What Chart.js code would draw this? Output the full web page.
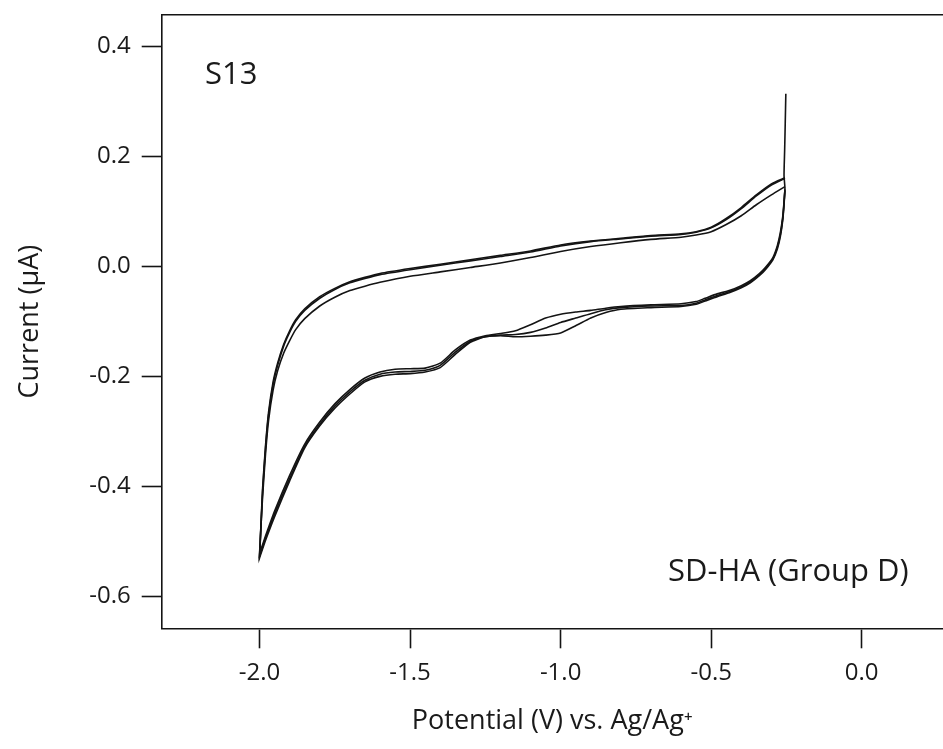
<!DOCTYPE html>
<html>
<head>
<meta charset="utf-8">
<script src="https://cdn.jsdelivr.net/npm/chart.js@4.4.1/dist/chart.umd.min.js"></script>
<style>
  html, body { margin: 0; padding: 0; background: #fff; }
  #wrap { width: 943px; height: 749px; }
</style>
</head>
<body>
<div id="wrap"><canvas id="c" width="943" height="749"></canvas></div>
<script>
// ---- Data (potential in V vs Ag/Ag+, current in µA) ----
const xTickValues = [-2.0, -1.5, -1.0, -0.5, 0.0];
const yTickValues = [-0.6, -0.4, -0.2, 0.0, 0.2, 0.4];

// initial current spike at the start potential
const startPotential = [-0.252, -0.254, -0.256, -0.258];
const startCurrent   = [0.314, 0.26, 0.21, 0.165];

// forward (cathodic) scan, -0.255 V -> -2.0 V
const fwdPotential = [-0.255, -0.258, -0.262, -0.27, -0.28, -0.295, -0.32, -0.34, -0.37, -0.40,
  -0.44, -0.48, -0.52, -0.55, -0.60, -0.70, -0.80, -0.85, -0.90, -0.95,
  -1.00, -1.05, -1.10, -1.15, -1.20, -1.25, -1.30, -1.35, -1.40, -1.45,
  -1.50, -1.55, -1.60, -1.65, -1.70, -1.75, -1.80, -1.85, -1.90, -1.95, -1.98, -2.00];
const fwdCurrent1 = [0.142, 0.118, 0.092, 0.062, 0.038, 0.016, -0.002, -0.013, -0.026, -0.035,
  -0.044, -0.050, -0.058, -0.064, -0.068, -0.070, -0.073, -0.076, -0.080, -0.083,
  -0.087, -0.094, -0.106, -0.117, -0.122, -0.126, -0.134, -0.152, -0.176, -0.185,
  -0.186, -0.187, -0.192, -0.203, -0.224, -0.250, -0.283, -0.323, -0.380, -0.445, -0.490, -0.522];
const fwdCurrent2 = [0.138, 0.112, 0.085, 0.055, 0.032, 0.012, -0.006, -0.017, -0.030, -0.039,
  -0.048, -0.055, -0.063, -0.069, -0.073, -0.075, -0.078, -0.084, -0.094, -0.108,
  -0.121, -0.125, -0.127, -0.128, -0.126, -0.128, -0.138, -0.160, -0.184, -0.192,
  -0.195, -0.196, -0.200, -0.210, -0.232, -0.258, -0.290, -0.330, -0.390, -0.455, -0.498, -0.530];
const fwdCurrent3 = [0.140, 0.115, 0.088, 0.058, 0.035, 0.014, -0.004, -0.015, -0.028, -0.037,
  -0.046, -0.053, -0.061, -0.067, -0.071, -0.072, -0.075, -0.079, -0.086, -0.094,
  -0.102, -0.112, -0.120, -0.124, -0.125, -0.128, -0.136, -0.156, -0.180, -0.189,
  -0.191, -0.192, -0.196, -0.207, -0.228, -0.254, -0.287, -0.327, -0.386, -0.450, -0.494, -0.527];

// reverse (anodic) scan, -2.0 V -> -0.255 V
const revPotential = [-2.00, -1.995, -1.99, -1.98, -1.97, -1.955, -1.94, -1.92, -1.90, -1.88,
  -1.85, -1.80, -1.75, -1.70, -1.65, -1.60, -1.50, -1.40, -1.30, -1.20,
  -1.10, -1.00, -0.90, -0.80, -0.70, -0.60, -0.55, -0.50, -0.45, -0.40, -0.35, -0.30, -0.255];
const revCurrent1 = [-0.522, -0.47, -0.41, -0.33, -0.27, -0.215, -0.18, -0.145, -0.12, -0.10,
  -0.08, -0.058, -0.042, -0.030, -0.022, -0.015, -0.006, 0.002, 0.010, 0.018,
  0.026, 0.037, 0.045, 0.050, 0.055, 0.058, 0.062, 0.070, 0.085, 0.105, 0.128, 0.148, 0.160];
const revCurrent2 = [-0.530, -0.47, -0.42, -0.34, -0.28, -0.225, -0.19, -0.158, -0.135, -0.115,
  -0.095, -0.072, -0.056, -0.044, -0.036, -0.029, -0.018, -0.010, -0.002, 0.006,
  0.016, 0.027, 0.036, 0.043, 0.049, 0.053, 0.057, 0.063, 0.076, 0.092, 0.112, 0.130, 0.145];
const revCurrent3 = [-0.527, -0.465, -0.405, -0.325, -0.265, -0.21, -0.176, -0.142, -0.117, -0.097,
  -0.077, -0.055, -0.040, -0.028, -0.020, -0.013, -0.004, 0.004, 0.012, 0.020,
  0.028, 0.039, 0.046, 0.051, 0.056, 0.059, 0.063, 0.071, 0.087, 0.107, 0.130, 0.150, 0.161];

const xMin = -2.325, xMax = 0.27;
const yMin = -0.658, yMax = 0.457;

// ---- build datasets ----
function pts(xs, ys) { return xs.map((x, i) => ({ x: x, y: ys[i] })); }
const cycles = [
  pts(startPotential, startCurrent).concat(pts(fwdPotential, fwdCurrent1), pts(revPotential, revCurrent1)),
  pts(fwdPotential, fwdCurrent2).concat(pts(revPotential, revCurrent2)),
  pts(fwdPotential, fwdCurrent3).concat(pts(revPotential, revCurrent3))
];
const lineColor = '#141414';
const datasets = cycles.map((d, i) => ({
  label: 'Cycle ' + (i + 1),
  data: d,
  showLine: true,
  borderColor: lineColor,
  borderWidth: 1.6,
  pointRadius: 0,
  tension: 0.2,
  fill: false
}));

const FONT = "'Open Sans', 'Noto Sans', sans-serif";
const annotations = [
  { text: 'S13', x: -2.181, y: 0.331, size: 31 },
  { text: 'SD-HA (Group D)', x: -0.643, y: -0.572, size: 31 }
];

const textPlugin = {
  id: 'annot',
  afterDatasetsDraw(chart) {
    const ctx = chart.ctx;
    const xs = chart.scales.x, ys = chart.scales.y;
    ctx.save();
    ctx.fillStyle = '#1a1a1a';
    ctx.textAlign = 'left';
    ctx.textBaseline = 'alphabetic';
    annotations.forEach(a => {
      ctx.font = a.size + 'px ' + FONT;
      ctx.fillText(a.text, xs.getPixelForValue(a.x), ys.getPixelForValue(a.y));
    });
    ctx.restore();
  }
};

function noPad(s) { s.paddingTop = 0; s.paddingBottom = 0; s.paddingLeft = 0; s.paddingRight = 0; }

new Chart(document.getElementById('c'), {
  type: 'scatter',
  data: { datasets: datasets },
  plugins: [textPlugin],
  options: {
    responsive: false,
    animation: false,
    devicePixelRatio: 1,
    layout: { padding: { top: 15, right: 0, bottom: 0, left: 0 } },
    plugins: { legend: { display: false }, tooltip: { enabled: false } },
    scales: {
      x: {
        type: 'linear', position: 'bottom', min: xMin, max: xMax,
        afterBuildTicks: s => { s.ticks = xTickValues.map(v => ({ value: v })); },
        afterFit: s => { s.height = 120.7; noPad(s); },
        border: { display: true, color: lineColor, width: 1.6 },
        grid: { drawOnChartArea: false, drawTicks: true, tickLength: 20, tickWidth: 1.6, tickColor: lineColor },
        ticks: { color: '#1a1a1a', font: { family: FONT, size: 24 }, padding: 10, maxRotation: 0, autoSkip: false,
                 callback: v => Number(v).toFixed(1) },
        title: { display: true, text: 'Potential (V) vs. Ag/Ag\u207A', color: '#1a1a1a',
                 font: { family: FONT, size: 27 }, padding: { top: 0, bottom: 11 } }
      },
      y: {
        type: 'linear', position: 'left', min: yMin, max: yMax,
        afterBuildTicks: s => { s.ticks = yTickValues.map(v => ({ value: v })); },
        afterFit: s => { s.width = 161.7; noPad(s); },
        border: { display: true, color: lineColor, width: 1.6 },
        grid: { drawOnChartArea: false, drawTicks: true, tickLength: 20, tickWidth: 1.6, tickColor: lineColor },
        ticks: { color: '#1a1a1a', font: { family: FONT, size: 24 }, padding: 11, autoSkip: false,
                 callback: v => Number(v).toFixed(1) },
        title: { display: true, text: 'Current (\u00B5A)', color: '#1a1a1a',
                 font: { family: FONT, size: 27 }, padding: { top: 14, bottom: 0 } }
      },
      x2: {
        type: 'linear', position: 'top', min: xMin, max: xMax,
        afterFit: s => { s.height = 0; noPad(s); },
        border: { display: true, color: lineColor, width: 1.6 },
        grid: { display: false, drawTicks: false },
        ticks: { display: false }
      }
    }
  }
});
</script>
</body>
</html>
